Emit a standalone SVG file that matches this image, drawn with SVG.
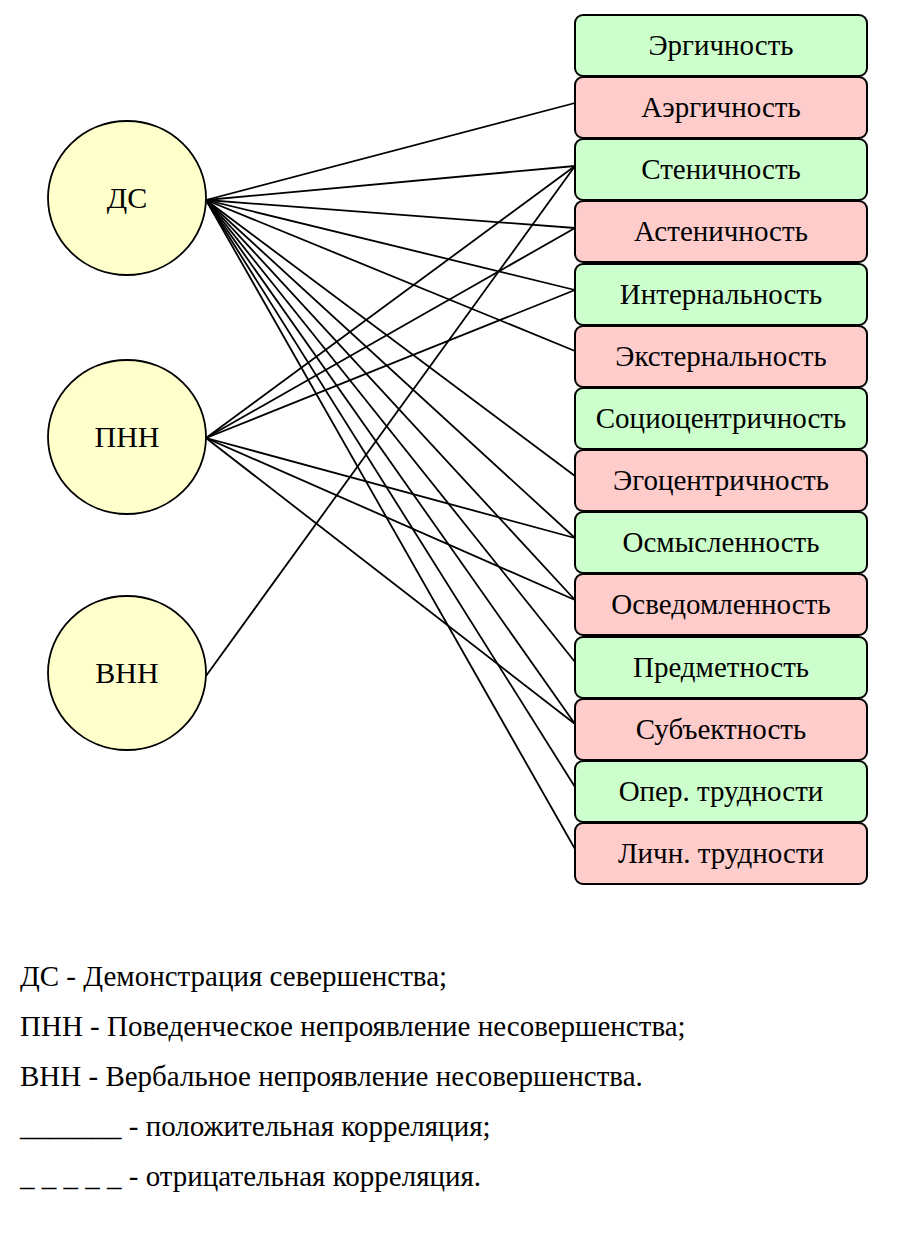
<svg xmlns="http://www.w3.org/2000/svg" width="899" height="1235" viewBox="0 0 899 1235">
<style>
.c{fill:#ffffcc;stroke:#000;stroke-width:1.8}
.g{fill:#ccffcc;stroke:#000;stroke-width:2}
.p{fill:#ffcccc;stroke:#000;stroke-width:2}
svg text.lb,svg text.cl,svg text.lg{font-family:'Liberation Serif',serif !important;fill:#000}
.lb{font-size:29px;text-anchor:middle}
.cl{font-size:30px;text-anchor:middle}
.lg{font-size:29px}
#edges line{stroke:#000;stroke-width:1.8}
</style>
<rect width="899" height="1235" fill="#fff"/>
<g id="edges">
<line x1="206" y1="200" x2="575" y2="103"/>
<line x1="206" y1="200" x2="575" y2="166"/>
<line x1="206" y1="200" x2="575" y2="228"/>
<line x1="206" y1="200" x2="575" y2="290"/>
<line x1="206" y1="200" x2="575" y2="351"/>
<line x1="206" y1="200" x2="575" y2="476"/>
<line x1="206" y1="200" x2="575" y2="538"/>
<line x1="206" y1="200" x2="575" y2="600"/>
<line x1="206" y1="200" x2="575" y2="662"/>
<line x1="206" y1="200" x2="575" y2="724"/>
<line x1="206" y1="200" x2="575" y2="787"/>
<line x1="206" y1="200" x2="575" y2="849"/>
<line x1="206" y1="438" x2="575" y2="166"/>
<line x1="206" y1="438" x2="575" y2="228"/>
<line x1="206" y1="438" x2="575" y2="290"/>
<line x1="206" y1="438" x2="575" y2="538"/>
<line x1="206" y1="438" x2="575" y2="600"/>
<line x1="206" y1="438" x2="575" y2="724"/>
<line x1="206" y1="676" x2="575" y2="166"/>
</g>
<g id="n-ds"><ellipse class="c" cx="127" cy="198" rx="79" ry="77"/><text class="cl" style="font-family:'Liberation Serif',serif" x="127" y="208">ДС</text></g>
<g id="n-pnn"><ellipse class="c" cx="127" cy="437" rx="79" ry="77"/><text class="cl" style="font-family:'Liberation Serif',serif" x="127" y="447">ПНН</text></g>
<g id="n-vnn"><ellipse class="c" cx="127" cy="673" rx="79" ry="77"/><text class="cl" style="font-family:'Liberation Serif',serif" x="127" y="683">ВНН</text></g>
<g id="b1"><rect class="g" x="575" y="15" width="292" height="61" rx="8"/><text class="lb" style="font-family:'Liberation Serif',serif" x="721" y="55">Эргичность</text></g>
<g id="b2"><rect class="p" x="575" y="77" width="292" height="61" rx="8"/><text class="lb" style="font-family:'Liberation Serif',serif" x="721" y="117">Аэргичность</text></g>
<g id="b3"><rect class="g" x="575" y="139" width="292" height="61" rx="8"/><text class="lb" style="font-family:'Liberation Serif',serif" x="721" y="179">Стеничность</text></g>
<g id="b4"><rect class="p" x="575" y="201" width="292" height="61" rx="8"/><text class="lb" style="font-family:'Liberation Serif',serif" x="721" y="241">Астеничность</text></g>
<g id="b5"><rect class="g" x="575" y="264" width="292" height="61" rx="8"/><text class="lb" style="font-family:'Liberation Serif',serif" x="721" y="304">Интернальность</text></g>
<g id="b6"><rect class="p" x="575" y="326" width="292" height="61" rx="8"/><text class="lb" style="font-family:'Liberation Serif',serif" x="721" y="366">Экстернальность</text></g>
<g id="b7"><rect class="g" x="575" y="388" width="292" height="61" rx="8"/><text class="lb" style="font-family:'Liberation Serif',serif" x="721" y="428">Социоцентричность</text></g>
<g id="b8"><rect class="p" x="575" y="450" width="292" height="61" rx="8"/><text class="lb" style="font-family:'Liberation Serif',serif" x="721" y="490">Эгоцентричность</text></g>
<g id="b9"><rect class="g" x="575" y="512" width="292" height="61" rx="8"/><text class="lb" style="font-family:'Liberation Serif',serif" x="721" y="552">Осмысленность</text></g>
<g id="b10"><rect class="p" x="575" y="574" width="292" height="61" rx="8"/><text class="lb" style="font-family:'Liberation Serif',serif" x="721" y="614">Осведомленность</text></g>
<g id="b11"><rect class="g" x="575" y="637" width="292" height="61" rx="8"/><text class="lb" style="font-family:'Liberation Serif',serif" x="721" y="677">Предметность</text></g>
<g id="b12"><rect class="p" x="575" y="699" width="292" height="61" rx="8"/><text class="lb" style="font-family:'Liberation Serif',serif" x="721" y="739">Субъектность</text></g>
<g id="b13"><rect class="g" x="575" y="761" width="292" height="61" rx="8"/><text class="lb" style="font-family:'Liberation Serif',serif" x="721" y="801">Опер. трудности</text></g>
<g id="b14"><rect class="p" x="575" y="823" width="292" height="61" rx="8"/><text class="lb" style="font-family:'Liberation Serif',serif" x="721" y="863">Личн. трудности</text></g>
<g id="legend">
<text class="lg" style="font-family:'Liberation Serif',serif" x="20" y="986">ДС - Демонстрация севершенства;</text>
<text class="lg" style="font-family:'Liberation Serif',serif" x="20" y="1036">ПНН - Поведенческое непроявление несовершенства;</text>
<text class="lg" style="font-family:'Liberation Serif',serif" x="20" y="1086">ВНН - Вербальное непроявление несовершенства.</text>
<text class="lg" style="font-family:'Liberation Serif',serif" x="20" y="1136">_______ - положительная корреляция;</text>
<text class="lg" style="font-family:'Liberation Serif',serif" x="20" y="1186">_ _ _ _ _ - отрицательная корреляция.</text>
</g>
</svg>
